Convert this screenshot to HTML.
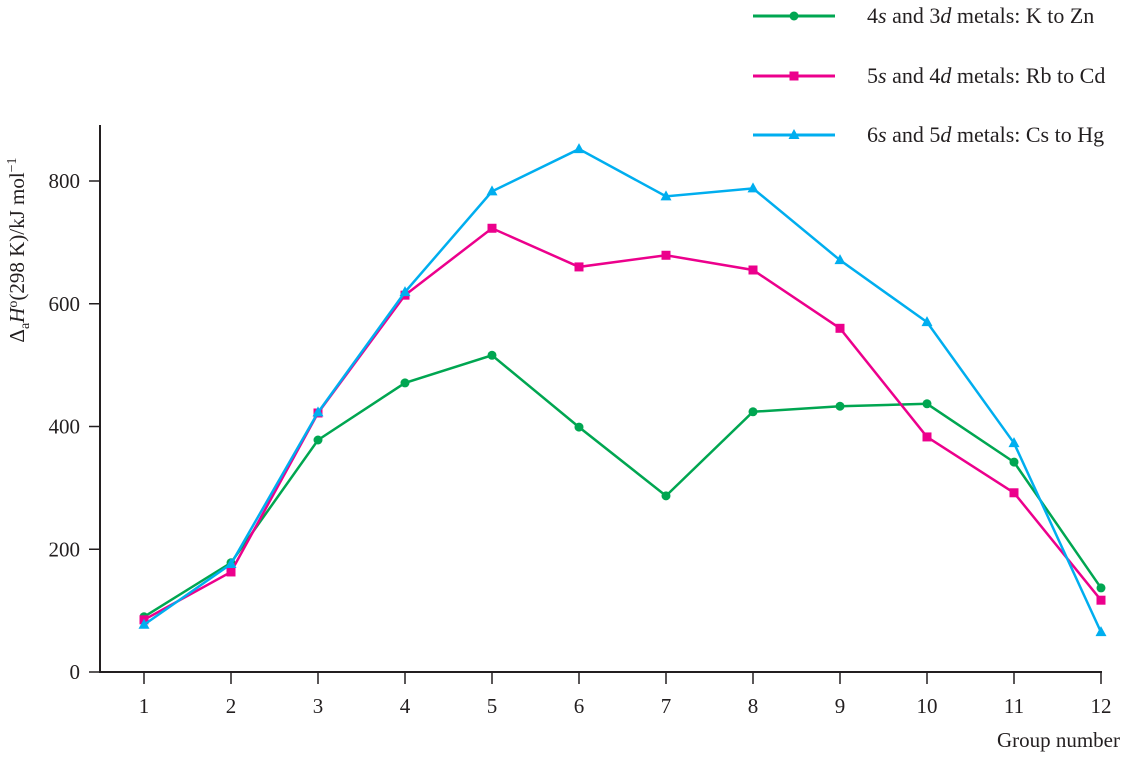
<!DOCTYPE html>
<html><head><meta charset="utf-8"><style>
body{margin:0;background:#fff}
svg text{font-family:"Liberation Serif",serif;fill:#231f20}
</style></head><body>
<svg id="chart" width="1134" height="752" xmlns="http://www.w3.org/2000/svg">
<g id="axes"></g><g id="series"></g><g id="legend"></g>
</svg>
<script>
const categories=[1,2,3,4,5,6,7,8,9,10,11,12];
const yTicks=[0,200,400,600,800];
const seriesNames=["4s and 3d metals: K to Zn","5s and 4d metals: Rb to Cd","6s and 5d metals: Cs to Hg"];
const greenValues=[90,178,378,471,516,399,287,424,433,437,342,137];
const pinkValues=[85,163,422,614,723,660,679,655,560,383,292,117];
const blueValues=[77,176,423,619,783,852,775,788,671,570,373,65];
const NS="http://www.w3.org/2000/svg";
const xS=c=>144+(c-1)*87;
const yS=v=>672-v*(491/800);
function mk(tag,attrs,parent,text){const e=document.createElementNS(NS,tag);for(const k in attrs)e.setAttribute(k,attrs[k]);if(text!==undefined)e.textContent=text;parent.appendChild(e);return e;}
const axes=document.getElementById('axes');
let yl=mk('line',{x1:100,y1:125,x2:100,y2:673,stroke:'#231f20','stroke-width':2},axes);


let xl=mk('line',{x1:99,y1:672,x2:1102,y2:672,stroke:'#231f20','stroke-width':2},axes);


yTicks.forEach(v=>{
 mk('line',{x1:89,y1:yS(v),x2:100,y2:yS(v),stroke:'#231f20','stroke-width':1.5},axes);
 let t=mk('text',{x:80,y:yS(v)+7,'text-anchor':'end','font-size':21},axes,String(v));
 
 
});
categories.forEach(c=>{
 mk('line',{x1:xS(c),y1:672,x2:xS(c),y2:684,stroke:'#231f20','stroke-width':1.5},axes);
 let t=mk('text',{x:xS(c),y:713,'text-anchor':'middle','font-size':21},axes,String(c));
 
 
});
let xt=mk('text',{x:1120,y:747,'text-anchor':'end','font-size':21},axes,'Group number');


let yt=mk('text',{transform:'translate(24,250) rotate(-90)','font-size':21,'text-anchor':'middle'},axes);


yt.innerHTML='Δ<tspan font-size="14" dy="5">a</tspan><tspan dy="-5" font-style="italic">H</tspan><tspan font-size="14" dy="-7">o</tspan><tspan dy="7">(298 K)/kJ mol</tspan><tspan font-size="14" dy="-8">−1</tspan>';
const colors=['#00a651','#ec008c','#00aeef'];
const all=[greenValues,pinkValues,blueValues];
const seriesG=document.getElementById('series');
function marker(kind,x,y,col,parent){
 let m;
 if(kind===0)m=mk('circle',{cx:x,cy:y,r:4.5,fill:col},parent);
 else if(kind===1)m=mk('rect',{x:x-4.5,y:y-4.5,width:9,height:9,fill:col},parent);
 else m=mk('polygon',{points:`${x},${y-6} ${x+5.5},${y+4} ${x-5.5},${y+4}`,fill:col},parent);
 return m;
}
all.forEach((vals,i)=>{
 const g=mk('g',{},seriesG);
 
 
 const pl=mk('polyline',{points:vals.map((v,j)=>xS(categories[j])+','+yS(v)).join(' '),fill:'none',stroke:colors[i],'stroke-width':2.5},g);
 
 
 vals.forEach((v,j)=>{
  const m=marker(i,xS(categories[j]),yS(v),colors[i],g);
  
  
 });
});
const lg=document.getElementById('legend');
const legendYs=[16,76,135];
const labelHtml=['4<tspan font-style="italic">s</tspan> and 3<tspan font-style="italic">d</tspan> metals: K to Zn','5<tspan font-style="italic">s</tspan> and 4<tspan font-style="italic">d</tspan> metals: Rb to Cd','6<tspan font-style="italic">s</tspan> and 5<tspan font-style="italic">d</tspan> metals: Cs to Hg'];
seriesNames.forEach((n,i)=>{
 const g=mk('g',{},lg);
 
 
 mk('line',{x1:753,y1:legendYs[i],x2:835,y2:legendYs[i],stroke:colors[i],'stroke-width':3},g);
 marker(i,794,legendYs[i],colors[i],g);
 const t=mk('text',{x:867,y:legendYs[i]+7,'font-size':22},g);
 t.innerHTML=labelHtml[i];
});
</script>
</body></html>
